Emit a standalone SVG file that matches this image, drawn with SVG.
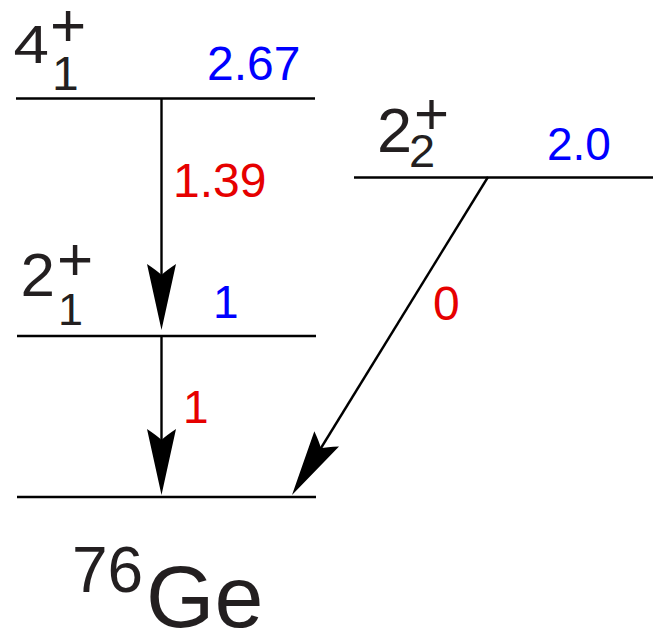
<svg xmlns="http://www.w3.org/2000/svg" xmlns:xlink="http://www.w3.org/1999/xlink" width="659" height="631" viewBox="0 0 659 631">
<style>
text{font-family:"Liberation Sans",Arial,sans-serif}
.lvl{stroke:#000;stroke-width:2.6;fill:none}
.cn{stroke:#000;stroke-width:2.4;fill:none}
.blk{fill:#231f20}
.blue{fill:#0000ff}
.red{fill:#e60000}
</style>
<defs>
<path id="head" d="M0,0 L-14.5,-66 Q-4,-59 0,-55 Q4,-59 14.5,-66 Z" fill="#000"/>
</defs>
<g id="level-4-1">
<line class="lvl" x1="16" y1="98.5" x2="315" y2="98.5"/>
<text class="blk" x="0" y="0" font-size="54" transform="translate(13.5,63) scale(1.18,1)">4</text>
<text class="blk" x="50" y="46" font-size="62">+</text>
<text class="blk" x="52" y="90" font-size="48">1</text>
<text class="blue" x="207" y="80" font-size="48">2.67</text>
</g>
<g id="level-2-2">
<line class="lvl" x1="354" y1="177.5" x2="653" y2="177.5"/>
<text class="blk" x="377" y="152" font-size="63">2</text>
<text class="blk" x="414" y="134" font-size="60">+</text>
<text class="blk" x="409" y="167" font-size="47">2</text>
<text class="blue" x="547" y="160" font-size="46">2.0</text>
</g>
<g id="level-2-1">
<line class="lvl" x1="17" y1="336" x2="316" y2="336"/>
<text class="blk" x="20.5" y="296" font-size="62">2</text>
<text class="blk" x="57" y="280" font-size="62">+</text>
<text class="blk" x="58" y="325" font-size="45">1</text>
<text class="blue" x="213" y="318" font-size="46">1</text>
</g>
<g id="level-0">
<line class="lvl" x1="17" y1="497" x2="316" y2="497"/>
<text class="blk" x="72" y="592" font-size="64">76</text>
<text class="blk" x="146" y="627" font-size="88">Ge</text>
</g>
<g id="connectors">
<line class="cn" x1="161.5" y1="98" x2="161.5" y2="280"/>
<use xlink:href="#head" transform="translate(161.5,330)"/>
<text class="red" x="173" y="197" font-size="48">1.39</text>
<line class="cn" x1="161.5" y1="336" x2="161.5" y2="445"/>
<use xlink:href="#head" transform="translate(161.5,495)"/>
<text class="red" x="183" y="423" font-size="46">1</text>
<line class="cn" x1="488" y1="177" x2="313" y2="461"/>
<use xlink:href="#head" transform="translate(292,495) rotate(31.7)"/>
<text class="red" x="433" y="320" font-size="48">0</text>
</g>
</svg>
